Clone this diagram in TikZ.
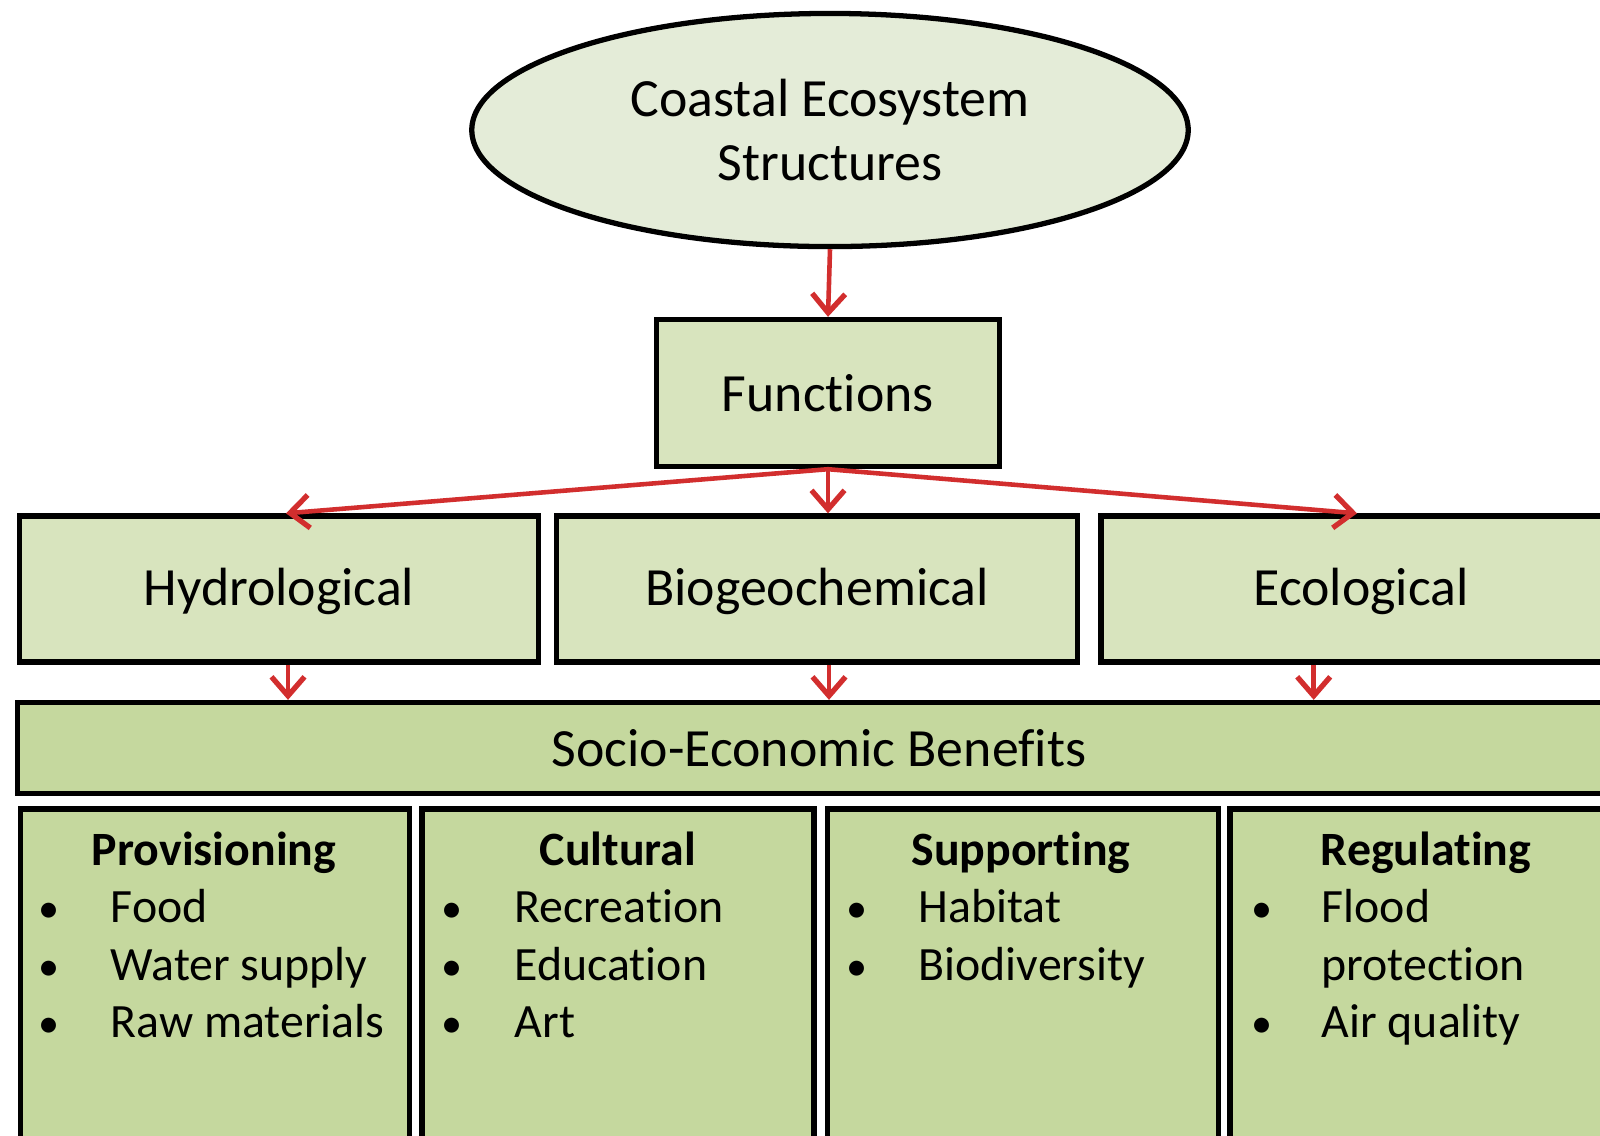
\documentclass[tikz,border=0pt]{standalone}
\usepackage{fontspec}
\setmainfont{Carlito}[Ligatures=NoCommon]
\usetikzlibrary{shapes.geometric,arrows.meta,calc}
\definecolor{palegreen}{HTML}{E4ECD8}
\definecolor{boxgreen}{HTML}{D8E4BE}
\definecolor{benefitgreen}{HTML}{C5D89E}
\definecolor{arrowred}{HTML}{D22E2E}
\tikzset{>={Straight Barb[length=1.9mm,width=3.3mm,line width=1.5pt]}}
\tikzset{
  funcbox/.style={draw=black,line width=1.5pt,fill=boxgreen,rectangle,inner sep=0pt,font=\fontsize{15.3}{18}\selectfont},
  functext/.style={anchor=base,inner sep=0pt,font=\fontsize{15.3}{18}\selectfont},
  benefitbox/.style={draw=black,line width=1.5pt,fill=benefitgreen,rectangle,inner sep=0pt},
  flow/.style={->,draw=arrowred,line width=1.3pt},
  itemtext/.style={anchor=base west,inner sep=0pt,font=\fontsize{13.6}{16}\selectfont},
  titletext/.style={anchor=base,inner sep=0pt,font=\fontsize{13.6}{16}\selectfont\bfseries},
  dot/.style={anchor=base,inner sep=0pt,font=\fontsize{12}{16}\selectfont},
}

\begin{document}
\begin{tikzpicture}[x=0.01cm,y=-0.01cm]
\useasboundingbox (0,0) rectangle (1600,1135);
\clip (0,0) rectangle (1600,1135);
\fill[white] (0,0) rectangle (1600,1135);

\node[ellipse,draw=black,line width=1.5pt,fill=palegreen,minimum width=7.16cm,minimum height=2.33cm,
  align=center,font=\fontsize{15.3}{18.2}\selectfont] (coast) at (830,130) {Coastal Ecosystem\\Structures};
\node[funcbox,minimum width=3.43cm,minimum height=1.47cm] (func) at (828,393) {Functions};

\node[funcbox,minimum width=5.19cm,minimum height=1.46cm] (hydro) at (279,589) {};
\node[funcbox,minimum width=5.2cm,minimum height=1.46cm] (biogeo) at (817,589) {};
\node[funcbox,minimum width=5.2cm,minimum height=1.46cm] (eco) at (1361,589) {};
\node[functext] (hydrotext) at (279,605) {Hydrological};
\node[functext] (biogeotext) at (817,605) {Biogeochemical};
\node[functext] (ecotext) at (1361,605) {Ecological};

\node[benefitbox,minimum width=16.02cm,minimum height=0.91cm,font=\fontsize{15.3}{18}\selectfont] (socio) at (819,748) {Socio-Economic Benefits};

\node[benefitbox,minimum width=3.89cm,minimum height=3.6cm] (prov) at (215,989) {};
\node[benefitbox,minimum width=3.92cm,minimum height=3.6cm] (cult) at (618,989) {};
\node[benefitbox,minimum width=3.91cm,minimum height=3.6cm] (supp) at (1023,989) {};
\node[benefitbox,minimum width=3.9cm,minimum height=3.6cm] (regul) at (1425,989) {};

% titles and bullet lists
\node[titletext] (provtitle) at (214,865) {Provisioning};
\node[titletext] (culttitle) at (618,865) {Cultural};
\node[titletext] (supptitle) at (1021,865) {Supporting};
\node[titletext] (regultitle) at (1426,865) {Regulating};

\foreach \txt [count=\i] in {Food,Water supply,Raw materials} {
  \node[dot] (provdot\i) at (49,865+57.5*\i) {\textbullet};
  \node[itemtext] (provitem\i) at (110,865+57.5*\i) {\txt};
}
\foreach \txt [count=\i] in {Recreation,Education,Art} {
  \node[dot] (cultdot\i) at (452,865+57.5*\i) {\textbullet};
  \node[itemtext] (cultitem\i) at (514,865+57.5*\i) {\txt};
}
\foreach \txt [count=\i] in {Habitat,Biodiversity} {
  \node[dot] (suppdot\i) at (857,865+57.5*\i) {\textbullet};
  \node[itemtext] (suppitem\i) at (918,865+57.5*\i) {\txt};
}
\node[dot] (regdot1) at (1262,922.5) {\textbullet};
\node[itemtext] (regitem1) at (1321,922.5) {Flood};
\node[itemtext] (regitem2) at (1321,980) {protection};
\node[dot] (regdot2) at (1262,1037.5) {\textbullet};
\node[itemtext] (regitem3) at (1321,1037.5) {Air quality};

% arrows
\draw[flow] (coast.south) -- (func.north);
\draw[flow] (func.south) -- ($(hydro.north)+(7,0)$);
\draw[flow] (func.south) -- (func.south |- biogeo.north);
\draw[flow] (func.south) -- ($(eco.north)+(-4,0)$);
\coordinate (hydrofoot) at ($(hydro.south)+(9,0)$);
\coordinate (biofoot) at ($(biogeo.south)+(12,0)$);
\coordinate (ecofoot) at ($(eco.south west)!0.41!(eco.south east)$);
\draw[flow] (hydrofoot) -- (hydrofoot |- socio.north);
\draw[flow] (biofoot) -- (biofoot |- socio.north);
\draw[flow] (ecofoot) -- (ecofoot |- socio.north);
\end{tikzpicture}
\end{document}
